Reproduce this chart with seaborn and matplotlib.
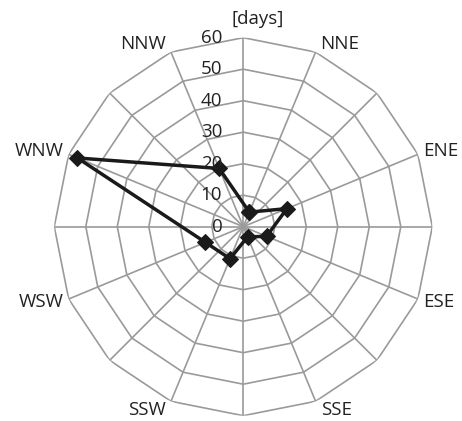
"""Radar chart of wind-direction frequency (days per sector)."""
import matplotlib
matplotlib.use("Agg")
import matplotlib.pyplot as plt
import numpy as np
import pandas as pd
import seaborn as sns

# 16 compass sectors; only every other one carries a label and a value
sectors = ["N", "NNE", "NE", "ENE", "E", "ESE", "SE", "SSE",
           "S", "SSW", "SW", "WSW", "W", "WNW", "NW", "NNW"]
shown = ["NNE", "ENE", "ESE", "SSE", "SSW", "WSW", "WNW", "NNW"]
days = [5, 15, 8, 3.5, 11, 13, 57, 20]
ring_values = [0, 10, 20, 30, 40, 50, 60]
unit_label = "[days]"

GRID = "#9a9a9a"
INK = "#222222"

sns.set_theme(style="white")
plt.rcParams["font.family"] = ["Open Sans", "DejaVu Sans"]

step = 2 * np.pi / len(sectors)
theta = {s: i * step for i, s in enumerate(sectors)}

fig = plt.figure(figsize=(4.62, 4.21), dpi=100)
ax = fig.add_axes([0.1175, 0.0126, 0.8182, 0.8979], projection="polar")
ax.set_theta_zero_location("N")
ax.set_theta_direction(-1)
ax.set_ylim(0, ring_values[-1])
ax.grid(False)
ax.set_xticks([])
ax.set_yticks([])
ax.spines["polar"].set_visible(False)
ax.patch.set_alpha(0)

# polygon rings and spokes
all_t = np.array([theta[s] for s in sectors] + [2 * np.pi])
for r in ring_values[1:]:
    ax.plot(all_t, np.full(len(all_t), r), color=GRID, lw=1.2, zorder=1)
for s in sectors:
    ax.plot([theta[s], theta[s]], [0, ring_values[-1]], color=GRID, lw=1.2, zorder=1)

# data polygon (closed)
df = pd.DataFrame({"theta": [theta[s] for s in shown], "days": days})
df = pd.concat([df, df.iloc[[0]].assign(theta=df.theta.iloc[0] + 2 * np.pi)])
sns.lineplot(data=df, x="theta", y="days", sort=False, estimator=None, ax=ax,
             color="#1a1a1a", lw=2.5, marker="D", markersize=8.5,
             markeredgecolor="#1a1a1a", zorder=3)
ax.set_xlabel("")
ax.set_ylabel("")

# radial tick labels left of the north spoke
for v in ring_values:
    ax.annotate(str(v), xy=(0, v), xytext=(-21, 0), textcoords="offset pixels",
                ha="right", va="center", fontsize=13.5, color=INK)

# sector labels outside the outer ring
for s in shown:
    t = theta[s]
    sx, cy = np.sin(t), np.cos(t)
    ax.annotate(s, xy=(t, ring_values[-1]),
                xytext=(5 * np.sign(sx), 9 * cy), textcoords="offset pixels",
                ha="left" if sx > 0 else "right", va="center",
                fontsize=13.5, color=INK, annotation_clip=False)

ax.annotate(unit_label, xy=(0, ring_values[-1]), xytext=(14, 19),
            textcoords="offset pixels", ha="center", va="center",
            fontsize=13.5, color=INK, annotation_clip=False)

fig.savefig("out.png", dpi=100)
